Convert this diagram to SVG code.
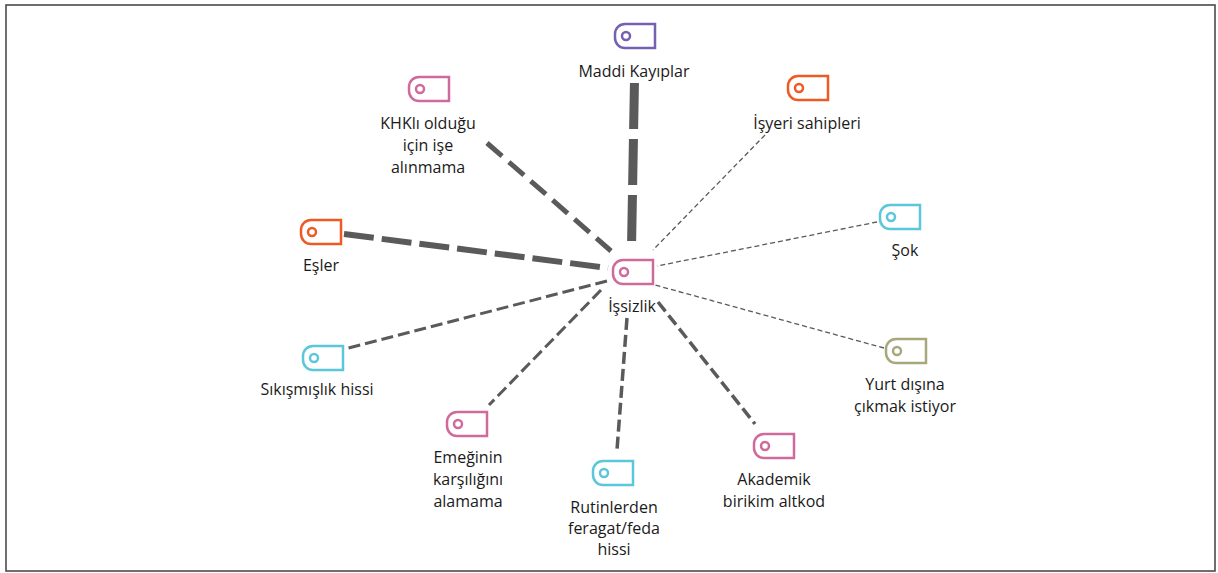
<svg xmlns="http://www.w3.org/2000/svg" width="1218" height="573" viewBox="0 0 1218 573">
<style>
.t{font-family:"Open Sans","Noto Sans","Liberation Sans",sans-serif;font-size:16px;fill:#1a1a1a;text-anchor:middle}
.tag{fill:#fff;stroke-width:2.5}
.pink{stroke:#cf6b9c}.purple{stroke:#7660b2}.orange{stroke:#ef5a24}.cyan{stroke:#5cc6da}.olive{stroke:#a9a87c}
.c{fill:none;stroke:#5a5a5a;stroke-linecap:butt}
.thin{stroke-width:1.3;stroke-dasharray:5 3}
.med{stroke-width:3.5;stroke-dasharray:12 5}
</style>
<defs>
<g id="tag">
<path d="M10,0 H40 V24 H10 A10 10 0 0 1 0,14 V10 A10 10 0 0 1 10,0 Z"/>
<circle cx="11" cy="12" r="4"/>
</g>
</defs>
<rect x="0" y="0" width="1218" height="573" fill="#fff"/>
<rect x="6" y="5" width="1209" height="566" fill="none" stroke="#4a4a4a" stroke-width="1.6"/>
<g id="connectors">
<line class="c" x1="634.5" y1="80" x2="631.5" y2="248" stroke-width="9" stroke-dasharray="46 10" stroke-dashoffset="-3"/>
<line class="c" x1="487" y1="143" x2="611" y2="251" stroke-width="5" stroke-dasharray="20 9"/>
<line class="c" x1="344" y1="234" x2="608" y2="268" stroke-width="6" stroke-dasharray="30 8"/>
<line class="c thin" x1="765" y1="135" x2="653" y2="250"/>
<line class="c thin" x1="877" y1="222" x2="657" y2="266"/>
<line class="c thin" x1="884" y1="348" x2="655" y2="285"/>
<line class="c med" x1="658" y1="302" x2="755" y2="424"/>
<line class="c med" x1="627" y1="318" x2="617" y2="450"/>
<line class="c" x1="601" y1="290" x2="489" y2="405" stroke-width="3" stroke-dasharray="12 5"/>
<line class="c" x1="607" y1="281" x2="345" y2="349" stroke-width="3" stroke-dasharray="12 5"/>
</g>
<g id="n-maddi"><use href="#tag" class="tag purple" x="615" y="24"/><text class="t" x="634" y="77">Maddi Kayıplar</text></g>
<g id="n-khk"><use href="#tag" class="tag pink" x="409" y="77"/><text class="t" x="428" y="129">KHKlı olduğu</text><text class="t" x="428" y="151">için işe</text><text class="t" x="428" y="173">alınmama</text></g>
<g id="n-isyeri"><use href="#tag" class="tag orange" x="788" y="76"/><text class="t" x="807" y="129">İşyeri sahipleri</text></g>
<g id="n-sok"><use href="#tag" class="tag cyan" x="880" y="205"/><text class="t" x="905" y="256">Şok</text></g>
<g id="n-esler"><use href="#tag" class="tag orange" x="301" y="220"/><text class="t" x="321" y="271">Eşler</text></g>
<g id="n-issizlik"><use href="#tag" class="tag pink" x="613" y="260"/><text class="t" x="632" y="312">İşsizlik</text></g>
<g id="n-sikismislik"><use href="#tag" class="tag cyan" x="303" y="346"/><text class="t" x="317" y="395">Sıkışmışlık hissi</text></g>
<g id="n-yurtdisi"><use href="#tag" class="tag olive" x="886" y="339"/><text class="t" x="905" y="390">Yurt dışına</text><text class="t" x="905" y="412">çıkmak istiyor</text></g>
<g id="n-emek"><use href="#tag" class="tag pink" x="447" y="412"/><text class="t" x="468" y="463">Emeğinin</text><text class="t" x="468" y="485">karşılığını</text><text class="t" x="468" y="507">alamama</text></g>
<g id="n-akademik"><use href="#tag" class="tag pink" x="754" y="434"/><text class="t" x="774" y="485">Akademik</text><text class="t" x="774" y="507">birikim altkod</text></g>
<g id="n-rutin"><use href="#tag" class="tag cyan" x="593" y="461"/><text class="t" x="614" y="513">Rutinlerden</text><text class="t" x="614" y="534">feragat/feda</text><text class="t" x="614" y="555">hissi</text></g>
</svg>
